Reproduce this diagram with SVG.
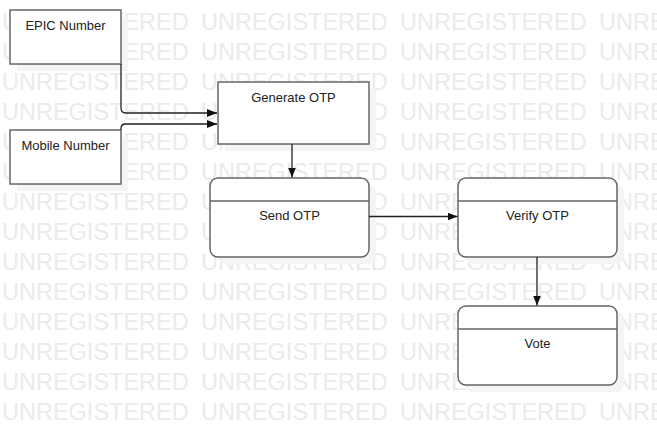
<svg xmlns="http://www.w3.org/2000/svg" width="657" height="425" viewBox="0 0 657 425">
<defs>
<style>
.wm{font-family:"Liberation Sans",Arial,sans-serif;font-size:23.5px;fill:#ebebeb}
.box{fill:#fff;stroke:#666;stroke-width:1.5}
.sh{fill:#f4f4f4}
.lbl{font-family:"Liberation Sans",Arial,sans-serif;font-size:13px;fill:#222;text-anchor:middle}
.con{fill:none;stroke:#222;stroke-width:1.3}
.div{stroke:#666;stroke-width:1.5}
</style>
<marker id="arr" viewBox="0 0 10 10" refX="10" refY="5" markerWidth="10" markerHeight="10" markerUnits="userSpaceOnUse" orient="auto">
<path d="M0,1 L10,5 L0,9 Z" fill="#111"/>
</marker>
</defs>
<rect width="657" height="425" fill="#fff"/>
<g id="watermark">
<text class="wm" x="2" y="30">UNREGISTERED</text><text class="wm" x="201" y="30">UNREGISTERED</text><text class="wm" x="400" y="30">UNREGISTERED</text><text class="wm" x="599" y="30">UNREGISTERED</text>
<text class="wm" x="2" y="60">UNREGISTERED</text><text class="wm" x="201" y="60">UNREGISTERED</text><text class="wm" x="400" y="60">UNREGISTERED</text><text class="wm" x="599" y="60">UNREGISTERED</text>
<text class="wm" x="2" y="90">UNREGISTERED</text><text class="wm" x="201" y="90">UNREGISTERED</text><text class="wm" x="400" y="90">UNREGISTERED</text><text class="wm" x="599" y="90">UNREGISTERED</text>
<text class="wm" x="2" y="120">UNREGISTERED</text><text class="wm" x="201" y="120">UNREGISTERED</text><text class="wm" x="400" y="120">UNREGISTERED</text><text class="wm" x="599" y="120">UNREGISTERED</text>
<text class="wm" x="2" y="150">UNREGISTERED</text><text class="wm" x="201" y="150">UNREGISTERED</text><text class="wm" x="400" y="150">UNREGISTERED</text><text class="wm" x="599" y="150">UNREGISTERED</text>
<text class="wm" x="2" y="180">UNREGISTERED</text><text class="wm" x="201" y="180">UNREGISTERED</text><text class="wm" x="400" y="180">UNREGISTERED</text><text class="wm" x="599" y="180">UNREGISTERED</text>
<text class="wm" x="2" y="210">UNREGISTERED</text><text class="wm" x="201" y="210">UNREGISTERED</text><text class="wm" x="400" y="210">UNREGISTERED</text><text class="wm" x="599" y="210">UNREGISTERED</text>
<text class="wm" x="2" y="240">UNREGISTERED</text><text class="wm" x="201" y="240">UNREGISTERED</text><text class="wm" x="400" y="240">UNREGISTERED</text><text class="wm" x="599" y="240">UNREGISTERED</text>
<text class="wm" x="2" y="270">UNREGISTERED</text><text class="wm" x="201" y="270">UNREGISTERED</text><text class="wm" x="400" y="270">UNREGISTERED</text><text class="wm" x="599" y="270">UNREGISTERED</text>
<text class="wm" x="2" y="300">UNREGISTERED</text><text class="wm" x="201" y="300">UNREGISTERED</text><text class="wm" x="400" y="300">UNREGISTERED</text><text class="wm" x="599" y="300">UNREGISTERED</text>
<text class="wm" x="2" y="330">UNREGISTERED</text><text class="wm" x="201" y="330">UNREGISTERED</text><text class="wm" x="400" y="330">UNREGISTERED</text><text class="wm" x="599" y="330">UNREGISTERED</text>
<text class="wm" x="2" y="360">UNREGISTERED</text><text class="wm" x="201" y="360">UNREGISTERED</text><text class="wm" x="400" y="360">UNREGISTERED</text><text class="wm" x="599" y="360">UNREGISTERED</text>
<text class="wm" x="2" y="390">UNREGISTERED</text><text class="wm" x="201" y="390">UNREGISTERED</text><text class="wm" x="400" y="390">UNREGISTERED</text><text class="wm" x="599" y="390">UNREGISTERED</text>
<text class="wm" x="2" y="420">UNREGISTERED</text><text class="wm" x="201" y="420">UNREGISTERED</text><text class="wm" x="400" y="420">UNREGISTERED</text><text class="wm" x="599" y="420">UNREGISTERED</text>
</g>
<g id="epic">
<rect class="sh" x="17" y="17" width="111" height="54"/>
<rect class="box" x="10" y="10" width="111" height="54"/>
<text class="lbl" x="65.5" y="29.5">EPIC Number</text>
</g>
<g id="mobile">
<rect class="sh" x="17" y="137" width="111" height="54"/>
<rect class="box" x="10" y="130" width="111" height="54"/>
<text class="lbl" x="65.5" y="149.5">Mobile Number</text>
</g>
<g id="generate">
<rect class="sh" x="225" y="89" width="151" height="62"/>
<rect class="box" x="218" y="82" width="151" height="62"/>
<text class="lbl" x="293.5" y="101.5">Generate OTP</text>
</g>
<g id="send">
<rect class="sh" x="217" y="185" width="159" height="79" rx="8"/>
<rect class="box" x="210" y="178" width="159" height="79" rx="8"/>
<line class="div" x1="210" y1="201" x2="369" y2="201"/>
<text class="lbl" x="289.5" y="219.5">Send OTP</text>
</g>
<g id="verify">
<rect class="sh" x="465" y="185" width="159" height="79" rx="8"/>
<rect class="box" x="458" y="178" width="159" height="79" rx="8"/>
<line class="div" x1="458" y1="201" x2="617" y2="201"/>
<text class="lbl" x="537.5" y="219.5">Verify OTP</text>
</g>
<g id="vote">
<rect class="sh" x="465" y="313" width="159" height="79" rx="8"/>
<rect class="box" x="458" y="306" width="159" height="79" rx="8"/>
<line class="div" x1="458" y1="329" x2="617" y2="329"/>
<text class="lbl" x="537.5" y="347.5">Vote</text>
</g>
<g id="connectors">
<path class="con" d="M121,64 V108 Q121,113 126,113 H217" marker-end="url(#arr)"/>
<path class="con" d="M121,130 V128.5 Q121,124 125.5,124 H217" marker-end="url(#arr)"/>
<path class="con" d="M292,144 V177.5" marker-end="url(#arr)"/>
<path class="con" d="M369,216.5 H457.5" marker-end="url(#arr)"/>
<path class="con" d="M537,257 V305.5" marker-end="url(#arr)"/>
</g>
</svg>
